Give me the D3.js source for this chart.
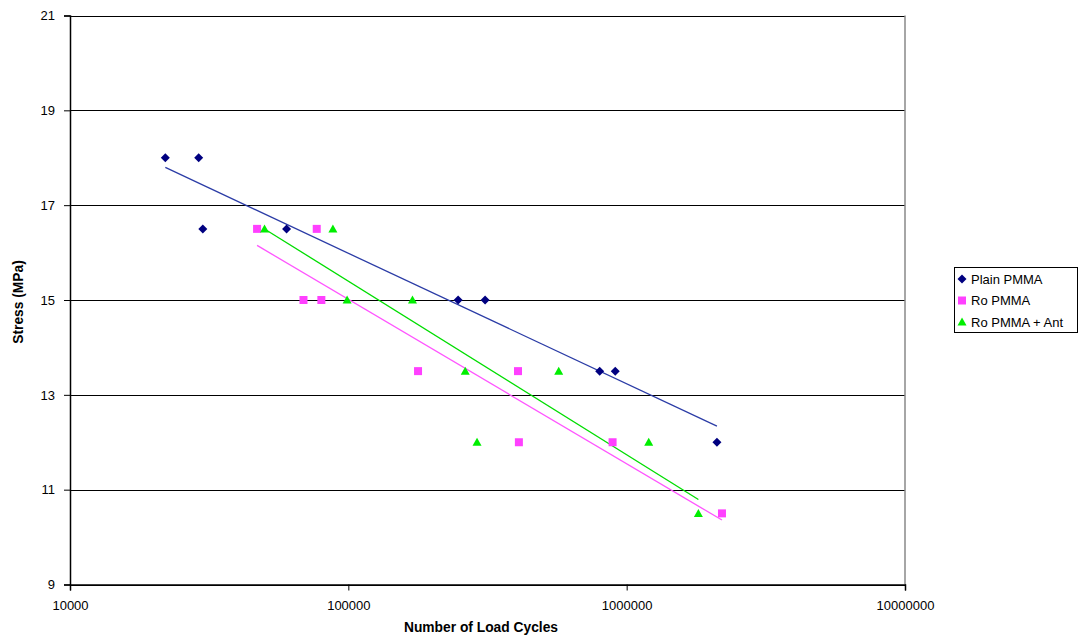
<!DOCTYPE html>
<html>
<head>
<meta charset="utf-8">
<script src="https://cdn.jsdelivr.net/npm/d3@7"></script>
<style>
  body { margin: 0; background: #fff; }
  svg { display: block; font-family: "Liberation Sans", Arial, sans-serif; }
</style>
</head>
<body>
<svg id="chart" width="1079" height="637"></svg>
<script>
// values
var plainCycles = [22000, 29000, 30000, 60000, 248000, 310000, 800000, 910000, 2110000];
var plainStress = [18, 18, 16.5, 16.5, 15, 15, 13.5, 13.5, 12];

var roCycles = [47000, 69000, 77000, 80000, 178000, 407000, 410000, 890000, 2200000];
var roStress = [16.5, 15, 16.5, 15, 13.5, 13.5, 12, 12, 10.5];

var antCycles = [50000, 88000, 99000, 170000, 263000, 290000, 570000, 1200000, 1810000];
var antStress = [16.5, 16.5, 15, 15, 13.5, 12, 13.5, 12, 10.5];

var xTicks = [10000, 100000, 1000000, 10000000];
var yTicks = [9, 11, 13, 15, 17, 19, 21];

var seriesNames = ['Plain PMMA', 'Ro PMMA', 'Ro PMMA + Ant'];

var series = [
  { name: seriesNames[0], x: plainCycles, y: plainStress, shape: 'diamond', fill: '#000080', line: '#2b3ca6' },
  { name: seriesNames[1], x: roCycles, y: roStress, shape: 'square', fill: '#ff40ff', line: '#ff55ff' },
  { name: seriesNames[2], x: antCycles, y: antStress, shape: 'triangle', fill: '#00ee00', line: '#00dd00' }
];

var svg = d3.select('#chart');

// plot area edges ('top' is taken by window.top)
var plotL = 70, plotR = 905, plotT = 15.5, plotB = 584.5;

var x = d3.scaleLog()
  .domain([10000, 10000000])
  .range([plotL, plotR]);

var y = d3.scaleLinear()
  .domain([9, 21])
  .range([plotB, plotT]);

// gridlines
svg.append('g')
  .selectAll('line')
  .data(yTicks)
  .enter().append('line')
    .attr('x1', plotL)
    .attr('x2', plotR)
    .attr('y1', function(d){ return Math.round(y(d)) + 0.5 })
    .attr('y2', function(d){ return Math.round(y(d)) + 0.5 })
    .attr('stroke', '#000')
    .attr('stroke-width', 1.2);

// right border
svg.append('line')
  .attr('x1', plotR).attr('x2', plotR)
  .attr('y1', plotT).attr('y2', plotB)
  .attr('stroke', '#888').attr('stroke-width', 1.5);

// y axis
var yAxis = svg.append('g')
  .attr('transform', 'translate(' + plotL + ',0)')
  .call(d3.axisLeft(y).tickValues(yTicks).tickSize(6).tickPadding(9).tickFormat(d3.format('d')));
yAxis.select('.domain').attr('stroke', '#000').attr('stroke-width', 1.5);
yAxis.selectAll('.tick line').attr('stroke', '#000');
yAxis.selectAll('text').attr('font-size', 13).attr('fill', '#000')
  .attr('font-family', '"Liberation Sans", Arial, sans-serif');

// x axis
var xAxis = svg.append('g')
  .attr('transform', 'translate(0,' + plotB + ')')
  .call(d3.axisBottom(x).tickValues(xTicks).tickSize(6).tickPadding(10).tickFormat(d3.format('d')));
xAxis.select('.domain').attr('stroke', '#000').attr('stroke-width', 1.5);
xAxis.selectAll('.tick line').attr('stroke', '#000');
xAxis.selectAll('text').attr('font-size', 13).attr('fill', '#000')
  .attr('font-family', '"Liberation Sans", Arial, sans-serif');

// axis titles
svg.append('text')
  .attr('x', 481).attr('y', 632)
  .attr('text-anchor', 'middle')
  .attr('font-size', 13.8).attr('font-weight', 'bold')
  .text('Number of Load Cycles');

svg.append('text')
  .attr('transform', 'translate(23,302) rotate(-90)')
  .attr('text-anchor', 'middle')
  .attr('font-size', 13.8).attr('font-weight', 'bold')
  .text('Stress (MPa)');

// logarithmic trendline: least squares of stress on log10(cycles)
function trend(s){
  var lx = s.x.map(function(v){ return Math.log10(v) });
  var mx = d3.mean(lx), my = d3.mean(s.y);
  var sxy = d3.sum(lx, function(v, i){ return (v - mx) * (s.y[i] - my) });
  var sxx = d3.sum(lx, function(v){ return (v - mx) * (v - mx) });
  var b = sxy / sxx, a = my - b * mx;
  var ext = d3.extent(s.x);
  return ext.map(function(v){ return [v, a + b * Math.log10(v)] });
}

var line = d3.line()
  .x(function(d){ return x(d[0]) })
  .y(function(d){ return y(d[1]) });

series.forEach(function(s){
  svg.append('path')
    .datum(trend(s))
    .attr('d', line)
    .attr('fill', 'none')
    .attr('stroke', s.line)
    .attr('stroke-width', 1.3);
});

function marker(g, shape, fill){
  if (shape === 'diamond') {
    g.append('path').attr('d', 'M0,-4.5L4.5,0L0,4.5L-4.5,0Z').attr('fill', fill);
  } else if (shape === 'square') {
    g.append('rect').attr('x', -4).attr('y', -4).attr('width', 8).attr('height', 8).attr('fill', fill);
  } else {
    g.append('path').attr('d', 'M0,-4.5L4.5,3.5L-4.5,3.5Z').attr('fill', fill);
  }
}

series.forEach(function(s){
  var pts = s.x.map(function(v, i){ return [v, s.y[i]] });
  svg.append('g')
    .selectAll('g')
    .data(pts)
    .enter().append('g')
      .attr('transform', function(d){ return 'translate(' + x(d[0]) + ',' + y(d[1]) + ')' })
      .each(function(){ marker(d3.select(this), s.shape, s.fill) });
});

// legend
var legend = svg.append('g').attr('transform', 'translate(954,267)');
legend.append('rect')
  .attr('x', 0.5).attr('y', 0.5)
  .attr('width', 123).attr('height', 65)
  .attr('fill', '#fff').attr('stroke', '#000').attr('stroke-width', 1);

var rows = legend.selectAll('g.row')
  .data(series)
  .enter().append('g')
    .attr('class', 'row')
    .attr('transform', function(d, i){ return 'translate(0,' + (12 + i * 21.5) + ')' });
rows.each(function(d){
  var m = d3.select(this).append('g').attr('transform', 'translate(8,0)');
  marker(m, d.shape, d.fill);
});
rows.append('text')
  .attr('x', 17).attr('y', 4.5)
  .attr('font-size', 13)
  .text(function(d){ return d.name });
</script>
</body>
</html>
